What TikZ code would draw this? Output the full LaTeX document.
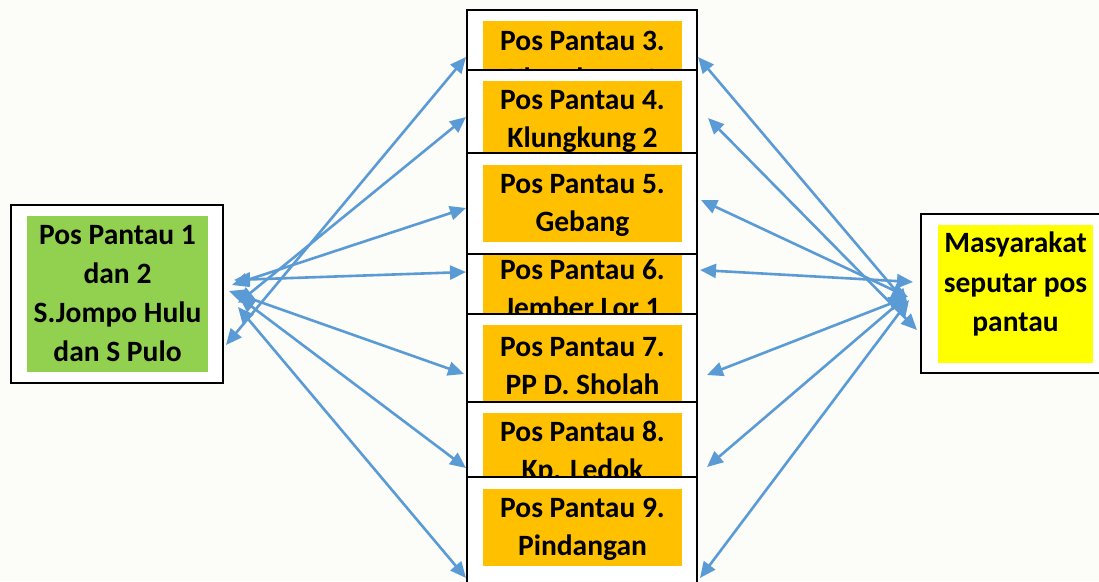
\documentclass[tikz,border=0pt]{standalone}
\usepackage{fontspec}
\setmainfont{Carlito}
\usetikzlibrary{arrows.meta}
\definecolor{orng}{HTML}{FFC000}
\definecolor{grn}{HTML}{92D050}
\definecolor{ylw}{HTML}{FFFF00}
\definecolor{arrowblue}{HTML}{5B9BD5}
\definecolor{bgc}{HTML}{FCFCF8}
\begin{document}
\begin{tikzpicture}[x=1pt,y=-1pt,
  box/.style={draw=black, fill=white, line width=1.3pt, minimum width=230pt, inner sep=0pt},
  lbl/.style={fill=orng, minimum width=199pt, minimum height=77pt, inner sep=0pt},
  txt/.style={align=center, font=\fontsize{29.5}{38}\selectfont\bfseries, inner sep=0pt},
  conn/.style={draw=arrowblue, line width=2.6pt,
     {Triangle[length=16pt,width=14pt]}-{Triangle[length=16pt,width=14pt]}}]
\useasboundingbox (0,0) rectangle (1099,581);
\clip (0,0) rectangle (1099,581);
\fill[bgc] (0,0) rectangle (1099,581);

% left box
\node[draw=black, fill=white, line width=1.4pt, minimum width=212pt, minimum height=178pt, inner sep=0pt] (lbox) at (117,294) {};
\node[fill=grn, minimum width=181pt, minimum height=156pt, inner sep=0pt, align=center,
      font=\fontsize{29.5}{39}\selectfont\bfseries] (ltext) at (117.5,294)
  {Pos Pantau 1\\dan 2\\S.Jompo Hulu\\dan S Pulo};

% right box
\node[draw=black, fill=white, line width=1.4pt, minimum width=199pt, minimum height=159pt, inner sep=0pt] (rbox) at (1020.5,293.5) {};
\node[fill=ylw, minimum width=155pt, minimum height=138pt, inner sep=0pt] (rfill) at (1015.5,294) {};
\node[align=center, inner sep=0pt, font=\fontsize{29.5}{39.5}\selectfont\bfseries] (rtext) at (1015.5,284)
  {Masyarakat\\seputar pos\\pantau};

% centre column (drawing order gives the overlaps)
\node[box, minimum height=100pt] (b3) at (582,60) {};
\node[lbl] (o3) at (582.5,59) {};
\node[txt] (t3) at (582.5,62) {Pos Pantau 3.\\Klungkung 1};
\node[box, minimum height=100pt] (b4) at (582,120) {};
\node[lbl] (o4) at (582.5,119) {};
\node[txt] (t4) at (582.5,121.5) {Pos Pantau 4.\\Klungkung 2};
\node[box, minimum height=100pt] (b6) at (582,280) {};
\node[lbl] (o6) at (582.5,287) {};
\node[txt] (t6) at (582.5,288.5) {Pos Pantau 6.\\Jember Lor 1};
\node[box, minimum height=101pt] (b5) at (582,203.5) {};
\node[lbl] (o5) at (582.5,203) {};
\node[txt] (t5) at (582.5,205) {Pos Pantau 5.\\Gebang};
\node[box, minimum height=88pt] (b7) at (582,358) {};
\node[lbl] (o7) at (582.5,363.5) {};
\node[txt] (t7) at (582.5,366) {Pos Pantau 7.\\PP D. Sholah};
\node[box, minimum height=88pt] (b8) at (582,446) {};
\node[lbl] (o8) at (582.5,451) {};
\node[txt] (t8) at (582.5,453) {Pos Pantau 8.\\Kp. Ledok};
\node[box, minimum height=143pt] (b9) at (582,548.5) {};
\node[lbl] (o9) at (582.5,527) {};
\node[txt] (t9) at (582.5,529) {Pos Pantau 9.\\Pindangan};

% connector end points
\coordinate (L3) at (226,345); \coordinate (P3l) at (466,57);
\coordinate (L4) at (238,303); \coordinate (P4l) at (466,117);
\coordinate (L5) at (232,285); \coordinate (P5l) at (466,208);
\coordinate (L6) at (234,280); \coordinate (P6l) at (466,272);
\coordinate (L7) at (229,291); \coordinate (P7l) at (464,374);
\coordinate (L8) at (239,297); \coordinate (P8l) at (466,468);
\coordinate (L9) at (238,307); \coordinate (P9l) at (466,578);

\coordinate (R3) at (908,305); \coordinate (P3r) at (698,57);
\coordinate (R4) at (917,330); \coordinate (P4r) at (708,118);
\coordinate (R5) at (908,297); \coordinate (P5r) at (701,200);
\coordinate (R6) at (913,282); \coordinate (P6r) at (700,270);
\coordinate (R7) at (905,298); \coordinate (P7r) at (707,375);
\coordinate (R8) at (907,296); \coordinate (P8r) at (707,467);
\coordinate (R9) at (909,300); \coordinate (P9r) at (700,578);

\foreach \i in {3,...,9} {
  \draw[conn] (L\i) -- (P\i l);
  \draw[conn] (P\i r) -- (R\i);
}
\end{tikzpicture}
\end{document}
